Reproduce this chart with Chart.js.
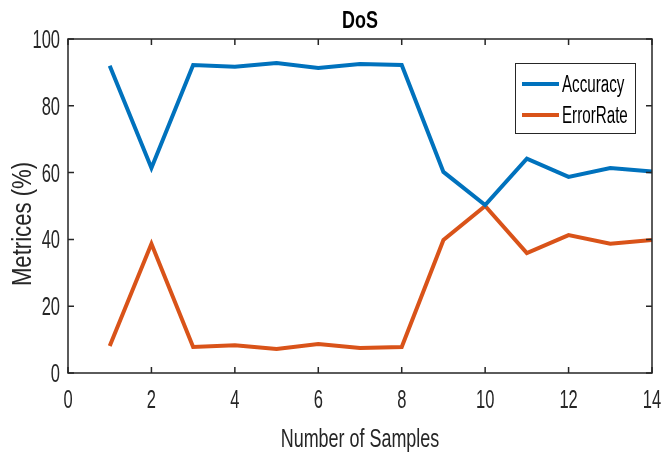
<!DOCTYPE html>
<html>
<head>
<meta charset="utf-8">
<script src="https://cdn.jsdelivr.net/npm/chart.js@4"></script>
<style>
  body { margin: 0; background: #fff; }
</style>
</head>
<body>
<canvas id="dosChart" width="661" height="455"></canvas>
<script>
// data
const samples = [1, 2, 3, 4, 5, 6, 7, 8, 9, 10, 11, 12, 13, 14];
const accuracy = [92, 61.4, 92.2, 91.7, 92.8, 91.3, 92.5, 92.2, 60.2, 50.3, 64.2, 58.7, 61.4, 60.3];
const errorRate = [8.1, 38.7, 7.8, 8.3, 7.2, 8.7, 7.5, 7.8, 39.8, 50, 35.9, 41.3, 38.7, 39.8];
const xTicks = [0, 2, 4, 6, 8, 10, 12, 14];
const yTicks = [0, 20, 40, 60, 80, 100];

const fontFam = "'Liberation Sans', Arial, sans-serif";
const axisColor = '#262626';

// teks dipersempit (font matlab lebih ramping)
function narrowText(ctx, text, x, y, font, sx, align, rot) {
  ctx.save();
  ctx.translate(x, y);
  if (rot) ctx.rotate(rot);
  ctx.scale(sx, 1);
  ctx.font = font;
  ctx.textAlign = align;
  ctx.textBaseline = 'alphabetic';
  ctx.fillText(text, 0, 0);
  ctx.restore();
}

// kotak + tick ke dalam + label + judul + legend (gaya matlab)
const matlabPlugin = {
  id: 'matlabBox',
  afterDraw(chart) {
    const { ctx, chartArea: a, scales } = chart;
    ctx.save();
    ctx.strokeStyle = axisColor;
    ctx.lineWidth = 1.5;
    ctx.strokeRect(a.left, a.top, a.right - a.left, a.bottom - a.top);
    const tl = 6;
    ctx.beginPath();
    xTicks.forEach(v => {
      const px = scales.x.getPixelForValue(v);
      ctx.moveTo(px, a.bottom); ctx.lineTo(px, a.bottom - tl);
      ctx.moveTo(px, a.top); ctx.lineTo(px, a.top + tl);
    });
    yTicks.forEach(v => {
      const py = scales.y.getPixelForValue(v);
      ctx.moveTo(a.left, py); ctx.lineTo(a.left + tl, py);
      ctx.moveTo(a.right, py); ctx.lineTo(a.right - tl, py);
    });
    ctx.stroke();

    // label tick
    ctx.fillStyle = axisColor;
    xTicks.forEach(v => {
      narrowText(ctx, String(v), scales.x.getPixelForValue(v), a.bottom + 35, '25px ' + fontFam, 0.66, 'center');
    });
    yTicks.forEach(v => {
      narrowText(ctx, String(v), a.left - 8, scales.y.getPixelForValue(v) + 9, '25px ' + fontFam, 0.66, 'right');
    });

    // judul sumbu
    narrowText(ctx, 'Number of Samples', (a.left + a.right) / 2, 447, '26px ' + fontFam, 0.69, 'center');
    narrowText(ctx, 'Metrices (%)', 31, 224, '27px ' + fontFam, 0.82, 'center', -Math.PI / 2);

    // judul
    ctx.fillStyle = '#000';
    narrowText(ctx, 'DoS', (a.left + a.right) / 2, 28, 'bold 23px ' + fontFam, 0.78, 'center');

    // legend
    const lx = 515, ly = 63, lw = 120, lh = 70;
    ctx.fillStyle = '#fff';
    ctx.fillRect(lx, ly, lw, lh);
    ctx.strokeStyle = '#262626';
    ctx.lineWidth = 1;
    ctx.strokeRect(lx + 0.5, ly + 0.5, lw, lh);
    chart.data.datasets.forEach((ds, i) => {
      const yy = ly + 21 + i * 31;
      ctx.strokeStyle = ds.borderColor;
      ctx.lineWidth = 4;
      ctx.beginPath();
      ctx.moveTo(lx + 7, yy); ctx.lineTo(lx + 44, yy);
      ctx.stroke();
      ctx.fillStyle = '#000';
      narrowText(ctx, ds.label, lx + 47, yy + 8, '23px ' + fontFam, 0.66, 'left');
    });
    ctx.restore();
  }
};

new Chart(document.getElementById('dosChart'), {
  type: 'line',
  data: {
    datasets: [
      {
        label: 'Accuracy',
        data: samples.map((s, i) => ({ x: s, y: accuracy[i] })),
        borderColor: '#0072BD',
        borderWidth: 4,
        pointRadius: 0,
        tension: 0
      },
      {
        label: 'ErrorRate',
        data: samples.map((s, i) => ({ x: s, y: errorRate[i] })),
        borderColor: '#D95319',
        borderWidth: 4,
        pointRadius: 0,
        tension: 0
      }
    ]
  },
  options: {
    responsive: false,
    animation: false,
    layout: { padding: { top: 39, right: 9, left: 0, bottom: 0 } },
    plugins: {
      legend: { display: false },
      tooltip: { enabled: false }
    },
    scales: {
      x: {
        type: 'linear',
        min: 0,
        max: 14,
        afterBuildTicks: s => { s.ticks = xTicks.map(v => ({ value: v })); },
        afterFit: s => { s.height = 82; s.paddingLeft = 0; s.paddingRight = 0; },
        grid: { display: false, drawTicks: false },
        border: { display: false },
        ticks: { display: false }
      },
      y: {
        min: 0,
        max: 100,
        afterBuildTicks: s => { s.ticks = yTicks.map(v => ({ value: v })); },
        afterFit: s => { s.width = 68; s.paddingTop = 0; s.paddingBottom = 0; },
        grid: { display: false, drawTicks: false },
        border: { display: false },
        ticks: { display: false }
      }
    }
  },
  plugins: [matlabPlugin]
});
</script>
</body>
</html>
